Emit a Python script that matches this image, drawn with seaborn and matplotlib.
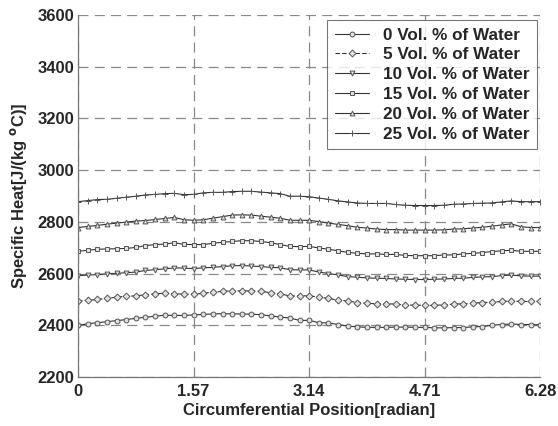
import numpy as np
import matplotlib
matplotlib.use("Agg")
import matplotlib.pyplot as plt
import seaborn as sns
import pandas as pd

# circumferential positions (49 nodes round the tube)
position = np.linspace(0, 6.28, 49)

water_0 = [2400, 2406, 2410, 2414, 2418, 2422, 2427, 2431, 2435, 2439, 2438, 2438, 2440, 2442, 2444, 2445, 2444,
           2444, 2443, 2441, 2436, 2432, 2428, 2419, 2419, 2410, 2409, 2403, 2397, 2394, 2392, 2392, 2392,
           2393, 2393, 2392, 2392, 2390, 2390, 2391, 2391, 2394, 2395, 2400, 2403, 2405, 2403, 2403, 2402]
water_5 = [2494, 2496, 2500, 2504, 2509, 2512, 2514, 2518, 2522, 2524, 2522, 2520, 2520, 2524, 2528, 2531, 2533,
           2533, 2533, 2531, 2526, 2522, 2513, 2514, 2514, 2509, 2504, 2497, 2494, 2488, 2485, 2483, 2483,
           2482, 2478, 2478, 2477, 2477, 2479, 2482, 2483, 2486, 2488, 2489, 2492, 2494, 2492, 2492, 2492]
water_10 = [2592, 2594, 2596, 2599, 2601, 2603, 2606, 2612, 2615, 2618, 2622, 2621, 2619, 2622, 2624, 2627, 2630,
            2631, 2629, 2627, 2624, 2622, 2615, 2614, 2614, 2606, 2600, 2595, 2588, 2586, 2583, 2582, 2581,
            2579, 2578, 2577, 2577, 2578, 2579, 2581, 2582, 2585, 2587, 2588, 2592, 2594, 2591, 2590, 2590]
water_15 = [2686, 2690, 2694, 2695, 2696, 2697, 2701, 2708, 2712, 2714, 2719, 2713, 2712, 2712, 2717, 2721, 2724,
            2727, 2727, 2724, 2719, 2712, 2705, 2704, 2705, 2699, 2694, 2688, 2682, 2678, 2676, 2676, 2674,
            2674, 2670, 2669, 2669, 2669, 2672, 2672, 2676, 2678, 2681, 2685, 2688, 2690, 2686, 2686, 2686]
water_20 = [2778, 2782, 2786, 2791, 2795, 2799, 2803, 2805, 2809, 2813, 2817, 2808, 2806, 2808, 2814, 2820, 2826,
            2827, 2826, 2822, 2818, 2814, 2806, 2806, 2806, 2801, 2795, 2790, 2785, 2779, 2776, 2772, 2770,
            2770, 2768, 2768, 2768, 2768, 2769, 2772, 2773, 2776, 2779, 2783, 2788, 2792, 2781, 2778, 2778]
water_25 = [2878, 2882, 2886, 2887, 2891, 2895, 2899, 2904, 2906, 2909, 2910, 2905, 2906, 2912, 2914, 2914, 2917,
            2918, 2918, 2915, 2912, 2909, 2899, 2899, 2897, 2892, 2887, 2881, 2877, 2873, 2871, 2871, 2871,
            2867, 2864, 2863, 2863, 2863, 2864, 2868, 2869, 2871, 2872, 2873, 2877, 2881, 2878, 2878, 2878]

labels = ["0 Vol. % of Water", "5 Vol. % of Water", "10 Vol. % of Water",
          "15 Vol. % of Water", "20 Vol. % of Water", "25 Vol. % of Water"]
series = [water_0, water_5, water_10, water_15, water_20, water_25]
x_ticks = [0, 1.57, 3.14, 4.71, 6.28]
y_ticks = [2200, 2400, 2600, 2800, 3000, 3200, 3400, 3600]

marker_list = ["o", "D", "v", "s", "^", "+"]
style_list = ["-", (0, (4, 2)), "-", "-", "-", "-"]

sns.set_style("white")
plt.rcParams["font.family"] = ["Liberation Sans", "DejaVu Sans"]
plt.rcParams["font.weight"] = "bold"

fig = plt.figure(figsize=(5.58, 4.26), dpi=100)
ax = fig.add_axes([0.140, 0.115, 0.828, 0.850])

for lab, vals, mk, ls in zip(labels, series, marker_list, style_list):
    d = pd.DataFrame({"pos": position, "cp": vals})
    msize = 5 if mk == "+" else 3.5
    sns.lineplot(data=d, x="pos", y="cp", color="#333333", marker=mk, linestyle=ls,
                 linewidth=0.8, markersize=msize, markerfacecolor="#e0e0e0",
                 markeredgecolor="#555555", markeredgewidth=0.7, label=lab, ax=ax)

ax.set_xlim(0, 6.28)
ax.set_ylim(2200, 3600)
ax.set_xticks(x_ticks)
ax.set_xticklabels(["0", "1.57", "3.14", "4.71", "6.28"])
ax.set_yticks(y_ticks)
ax.tick_params(labelsize=12, length=3, direction="in", color="#777777")
ax.tick_params(axis="x", pad=5)
ax.tick_params(axis="y", pad=3)
for t in ax.get_xticklabels() + ax.get_yticklabels():
    t.set_fontweight("bold")

ax.grid(True, linestyle=(0, (8, 5)), color="#888888", linewidth=0.9)
for s in ["top", "right"]:
    ax.spines[s].set_visible(False)
for s in ["left", "bottom"]:
    ax.spines[s].set_color("#777777")
    ax.spines[s].set_linewidth(0.9)

ax.set_xlabel("Circumferential Position[radian]", fontsize=12, fontweight="bold", labelpad=3)
ax.set_ylabel("Specific Heat[J/(kg $^{\\mathbf{o}}$C)]", fontsize=12, fontweight="bold", labelpad=6)

leg = ax.legend(loc="upper right", bbox_to_anchor=(0.9935, 0.986), fontsize=12.3, frameon=True,
                fancybox=False, handlelength=2.0, labelspacing=0.28, borderpad=0.45,
                handletextpad=0.8, borderaxespad=0)
leg.get_frame().set_edgecolor("#555555")
leg.get_frame().set_linewidth(0.8)
for t in leg.get_texts():
    t.set_fontweight("bold")

fig.savefig("out.png", dpi=100)
